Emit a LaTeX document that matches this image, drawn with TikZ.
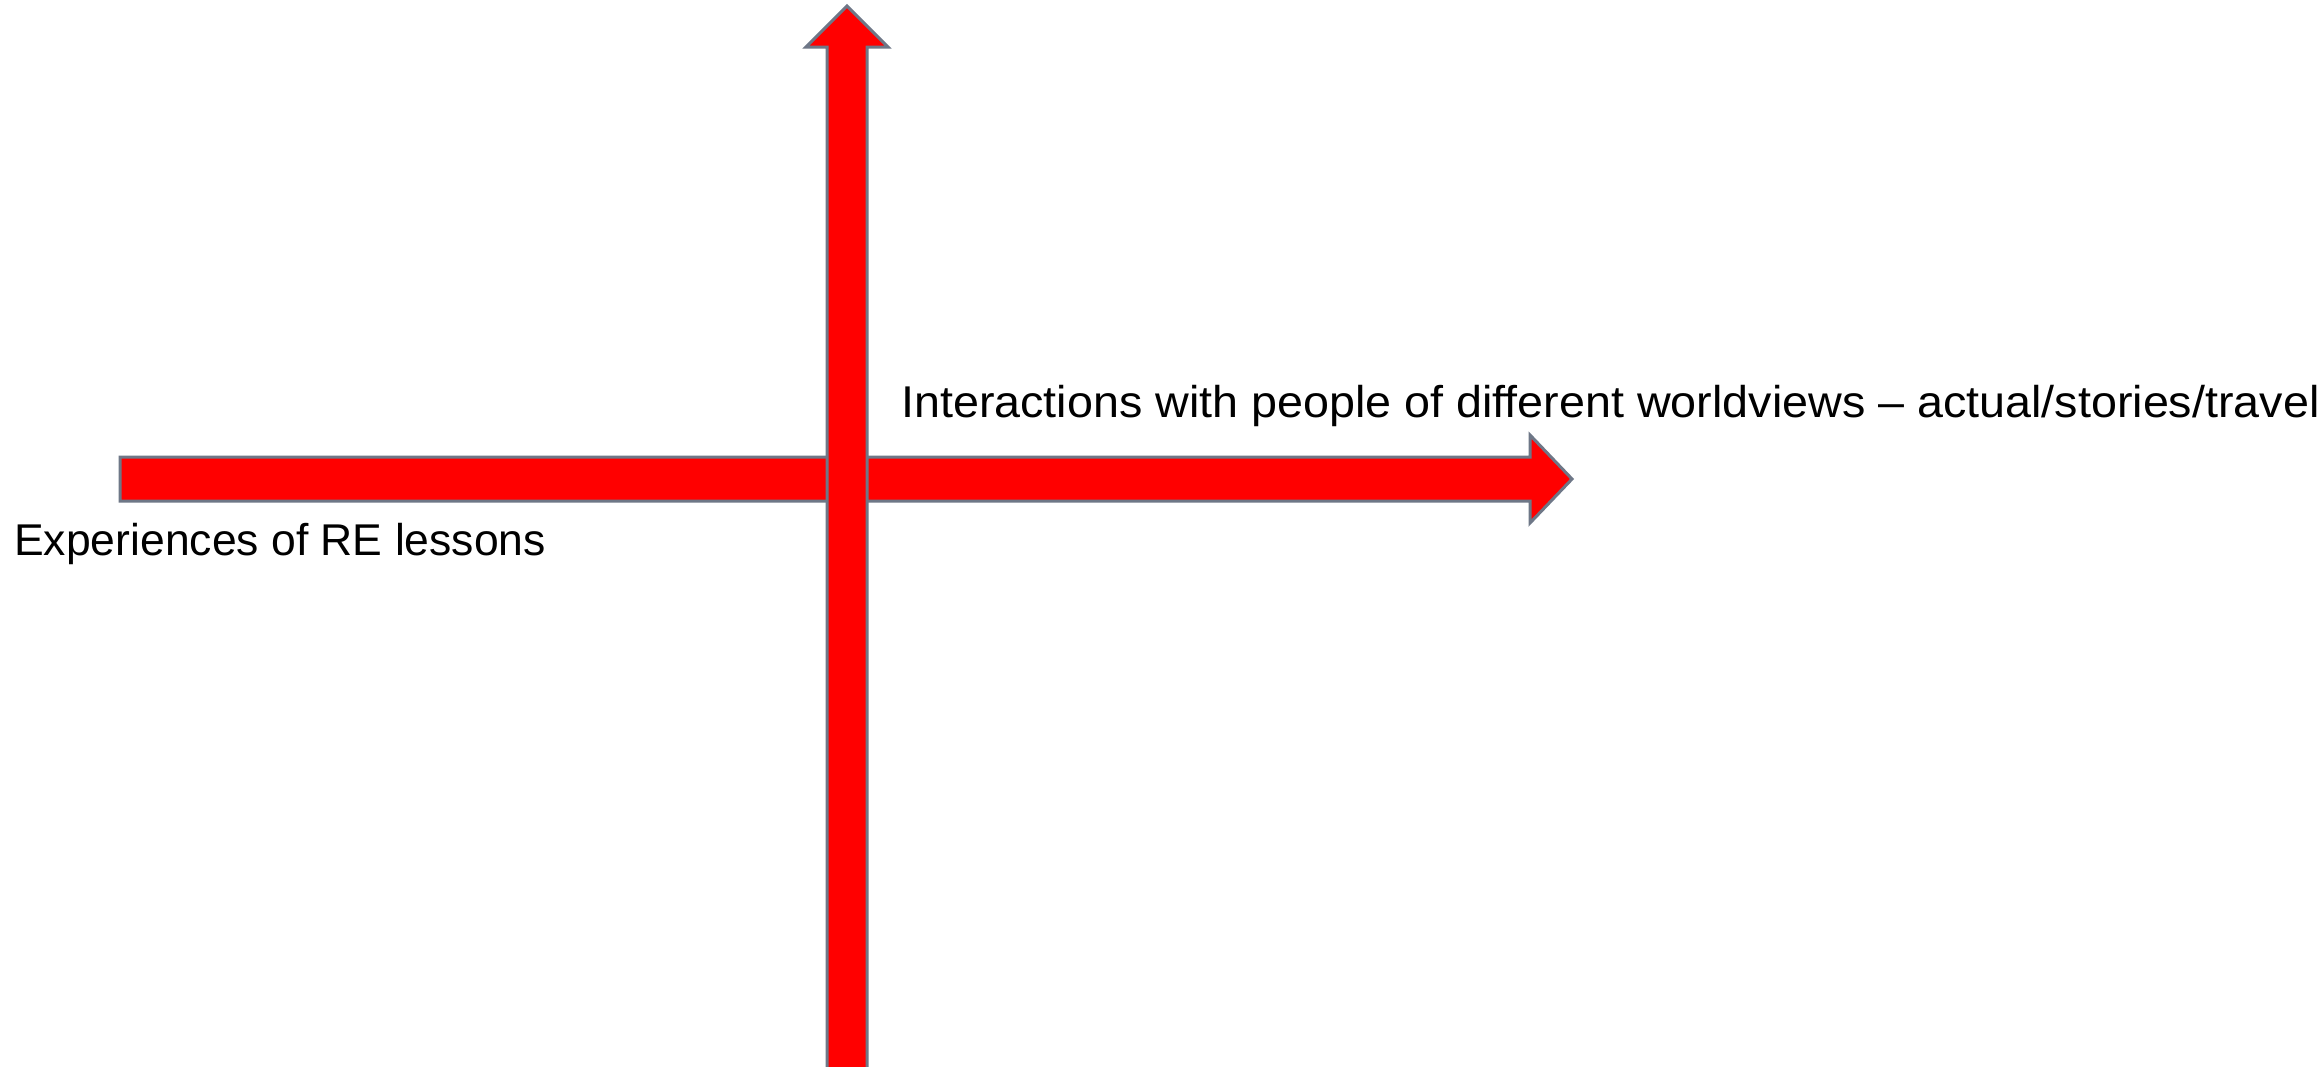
\documentclass[tikz,border=0pt]{standalone}
\usepackage{fontspec}
\setmainfont{Liberation Sans}
\newfontfamily\widefont{Liberation Sans}[FakeStretch=1.049]
\definecolor{arrowline}{HTML}{6E7787}
\definecolor{arrowfill}{HTML}{FF0000}
\tikzset{
  bigarrow/.style={fill=arrowfill, draw=arrowline, line width=3pt, line join=miter},
  label/.style={anchor=base west, inner sep=0pt, font=\fontsize{44.5}{53}\selectfont, text=black}
}
\begin{document}
\begin{tikzpicture}[x=1pt,y=-1pt]
\useasboundingbox (0,0) rectangle (2320,1066);
\clip (0,0) rectangle (2320,1066);
\fill[white] (0,0) rectangle (2320,1066);
% horizontal arrow
\draw[bigarrow] (120,457) -- (1530,457) -- (1530,435) -- (1572,479) -- (1530,523) -- (1530,501) -- (120,501) -- cycle;
% vertical arrow
\draw[bigarrow] (827,1080) -- (827,47) -- (806,47) -- (847,6) -- (888,47) -- (867,47) -- (867,1080) -- cycle;
\node[label] (left) at (14,555) {Experiences of RE lessons};
\node[label, font=\widefont\fontsize{44.5}{53}\selectfont] (right) at (901,417) {Interactions with people of different worldviews – actual/stories/travel};
\end{tikzpicture}
\end{document}
